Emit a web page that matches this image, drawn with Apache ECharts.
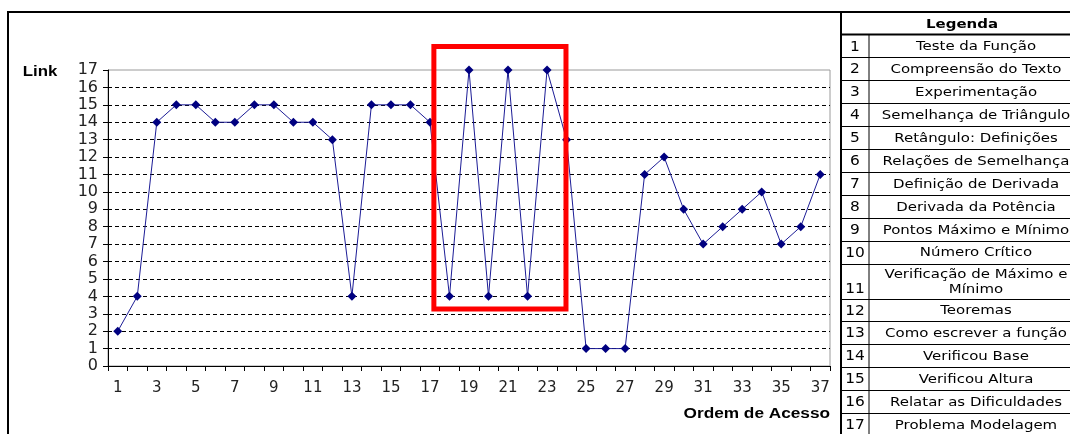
<!DOCTYPE html>
<html>
<head>
<meta charset="utf-8">
<script src="https://cdn.jsdelivr.net/npm/echarts@6/dist/echarts.min.js"></script>
<style>
  html, body { margin: 0; padding: 0; background: #fff; }
  #chart { width: 1070px; height: 434px; }
</style>
</head>
<body>
<div id="chart"></div>
<script>
// Access order (x axis) and the link visited at each step (y axis)
const accessOrder = ['1','2','3','4','5','6','7','8','9','10','11','12','13','14','15','16','17','18','19',
  '20','21','22','23','24','25','26','27','28','29','30','31','32','33','34','35','36','37'];
const linkValues = [2, 4, 14, 15, 15, 14, 14, 15, 15, 14, 14, 13, 4, 15, 15, 15, 14, 4, 17, 4,
  17, 4, 17, 13, 1, 1, 1, 11, 12, 9, 7, 8, 9, 10, 7, 8, 11];
const linkAxisMin = 0;
const linkAxisMax = 17;
const linkAxisStep = 1;

const legendTitle = 'Legenda';
const legendItems = [
  'Teste da Função',
  'Compreensão do Texto',
  'Experimentação',
  'Semelhança de Triângulo',
  'Retângulo: Definições',
  'Relações de Semelhança',
  'Definição de Derivada',
  'Derivada da Potência',
  'Pontos Máximo e Mínimo',
  'Número Crítico',
  'Verificação de Máximo e\nMínimo',
  'Teoremas',
  'Como escrever a função',
  'Verificou Base',
  'Verificou Altura',
  'Relatar as Dificuldades',
  'Problema Modelagem'
];

// Highlighted stretch of the sequence: category positions (0-based) and link range
const highlightSpan = { from: 16.2, to: 22.97, low: 3.28, high: 18.35 };

const chart = echarts.init(document.getElementById('chart'), null, { renderer: 'canvas' });

chart.setOption({
  animation: false,
  backgroundColor: '#ffffff',
  grid: {
    left: 108, right: 240, top: 70, bottom: 68,
    show: true, borderColor: '#9a9a9a', borderWidth: 1,
    backgroundColor: 'transparent',
    containLabel: false, outerBoundsMode: 'none'
  },
  xAxis: {
    type: 'category',
    data: accessOrder,
    boundaryGap: true,
    axisLine: { show: true, lineStyle: { color: '#000', width: 1 } },
    axisTick: { show: true, interval: 0, length: 5, inside: false, lineStyle: { color: '#000' } },
    axisLabel: { show: true, interval: 1, margin: 15, color: '#222',
      fontFamily: 'DejaVu Sans', fontSize: 15 },
    splitLine: { show: false }
  },
  yAxis: {
    type: 'value',
    min: linkAxisMin, max: linkAxisMax, interval: linkAxisStep,
    axisLine: { show: true, lineStyle: { color: '#000', width: 1 } },
    axisTick: { show: true, length: 5, inside: false, lineStyle: { color: '#000' } },
    axisLabel: { show: true, margin: 10, color: '#222',
      fontFamily: 'DejaVu Sans', fontSize: 16 },
    splitLine: { show: true, showMinLine: false, showMaxLine: false,
      lineStyle: { color: '#000', width: 1, type: [4, 3] } }
  },
  series: [{
    type: 'line',
    data: linkValues,
    symbol: 'diamond',
    symbolSize: 9,
    lineStyle: { color: '#1c1c96', width: 1 },
    itemStyle: { color: '#000080' },
    z: 3
  }]
});

// ---- surrounding frame, axis titles, highlight box and the legend table ----
const graphics = [];

// outer frame of the chart
graphics.push({ type: 'polyline', silent: true, z: 50,
  shape: { points: [[8, 440], [8, 12], [1075, 12]] },
  style: { stroke: '#000', lineWidth: 2, fill: null } });

// axis titles
graphics.push({ type: 'text', x: 40, y: 72, scaleX: 1.2, z: 50,
  style: { text: 'Link', x: 0, y: 0, align: 'center', verticalAlign: 'middle',
    textAlign: 'center', textVerticalAlign: 'middle',
    font: 'bold 14px "Liberation Sans", Arial', fill: '#000' } });
graphics.push({ type: 'text', x: 830, y: 414, scaleX: 1.23, z: 50,
  style: { text: 'Ordem de Acesso', x: 0, y: 0, align: 'right', verticalAlign: 'middle',
    textAlign: 'right', textVerticalAlign: 'middle',
    font: 'bold 14px "Liberation Sans", Arial', fill: '#000' } });

// highlight box, placed from axis positions
const p0 = chart.convertToPixel({ xAxisIndex: 0, yAxisIndex: 0 }, [0, highlightSpan.low]);
const p1 = chart.convertToPixel({ xAxisIndex: 0, yAxisIndex: 0 }, [1, highlightSpan.high]);
const band = p1[0] - p0[0];
const hx1 = p0[0] + highlightSpan.from * band;
const hx2 = p0[0] + highlightSpan.to * band;
graphics.push({ type: 'rect', silent: true, z: 100,
  shape: { x: hx1, y: p1[1], width: hx2 - hx1, height: p0[1] - p1[1] },
  style: { fill: null, stroke: '#ff0000', lineWidth: 5 } });

// legend table
const tableLeft = 841, numSplit = 869, tableRight = 1090;
const textCenter = 976, numCenter = 855;
const headerTop = 12, headerBottom = 34.5;
const rowHeight = 22.9, tallRowHeight = 35;
graphics.push({ type: 'line', silent: true, z: 50,
  shape: { x1: tableLeft, y1: headerTop, x2: tableLeft, y2: 440 },
  style: { stroke: '#000', lineWidth: 2 } });
graphics.push({ type: 'line', silent: true, z: 50,
  shape: { x1: tableLeft, y1: headerBottom, x2: tableRight, y2: headerBottom },
  style: { stroke: '#000', lineWidth: 2 } });
graphics.push({ type: 'line', silent: true, z: 50,
  shape: { x1: numSplit, y1: headerBottom, x2: numSplit, y2: 440 },
  style: { stroke: '#000', lineWidth: 1 } });
graphics.push({ type: 'text', x: 962, y: (headerTop + headerBottom) / 2 + 1, scaleX: 1.15, z: 50,
  style: { text: legendTitle, x: 0, y: 0, align: 'center', verticalAlign: 'middle',
    textAlign: 'center', textVerticalAlign: 'middle',
    font: 'bold 13px "DejaVu Sans"', fill: '#000' } });

let rowTop = headerBottom;
legendItems.forEach((label, i) => {
  const h = label.indexOf('\n') >= 0 ? tallRowHeight : rowHeight;
  const rowBottom = rowTop + h;
  const isTall = h === tallRowHeight;
  graphics.push({ type: 'line', silent: true, z: 50,
    shape: { x1: tableLeft, y1: Math.round(rowBottom) + 0.5, x2: tableRight, y2: Math.round(rowBottom) + 0.5 },
    style: { stroke: '#000', lineWidth: 1 } });
  graphics.push({ type: 'text', x: numCenter, y: isTall ? rowBottom - 9 : (rowTop + rowBottom) / 2 + 1,
    scaleX: 1.1, z: 50,
    style: { text: String(i + 1), x: 0, y: 0, align: 'center', verticalAlign: 'middle',
      textAlign: 'center', textVerticalAlign: 'middle',
      font: '14px "DejaVu Sans"', fill: '#000' } });
  graphics.push({ type: 'text', x: textCenter, y: (rowTop + rowBottom) / 2 + 1, scaleX: 1.15, z: 50,
    style: { text: label, x: 0, y: 0, align: 'center', verticalAlign: 'middle',
      textAlign: 'center', textVerticalAlign: 'middle', lineHeight: 15,
      font: '13px "DejaVu Sans"', fill: '#000' } });
  rowTop = rowBottom;
});

chart.setOption({ graphic: { elements: graphics } });
</script>
</body>
</html>
